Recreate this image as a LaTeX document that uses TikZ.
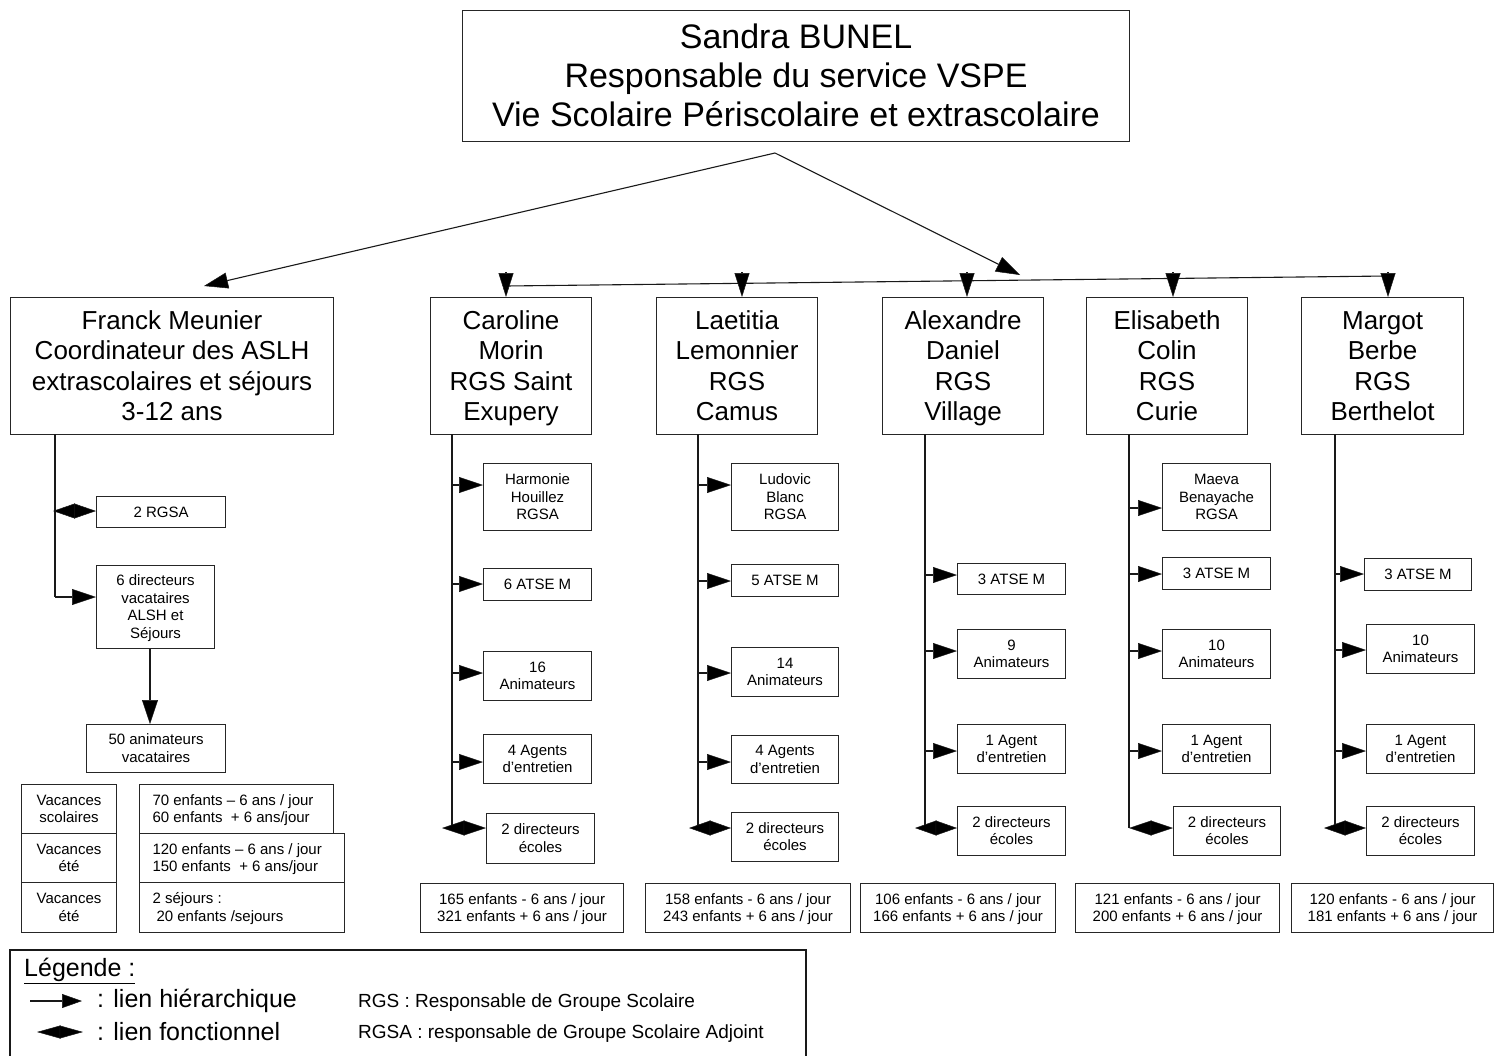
\documentclass[tikz,border=0pt]{standalone}
\usepackage{fontspec}
\setmainfont{Liberation Sans}
\usetikzlibrary{arrows.meta}
\newcommand\bx[1]{\raisebox{-0.11em}[\height][\depth]{\begin{tabular}{@{}c@{}}#1\end{tabular}}}
\newcommand\bxl[2]{\makebox[#1][l]{\raisebox{-0.11em}[\height][\depth]{\begin{tabular}{@{}l@{}}#2\end{tabular}}}}
\begin{document}
\begin{tikzpicture}[x=1pt,y=-1pt,
  box/.style={draw=black!85, line width=1.1pt, inner sep=0pt, anchor=north west,
    font=\fontsize{15}{17.5}\selectfont},
  bigbox/.style={box, font=\fontsize{26}{30.5}\selectfont},
  titlebox/.style={box, font=\fontsize{34}{39}\selectfont},
  leftbox/.style={box, inner xsep=13pt},
  conn/.style={line width=1.1pt, draw=black!90},
  hier/.style={conn, -{Triangle[length=24pt,width=16pt,fill=black,line width=0.5pt]}},
  fonc/.style={conn, {Triangle[length=#1,width=15pt,fill=black,line width=0.5pt]}-{Triangle[length=#1,width=15pt,fill=black,line width=0.5pt]}},
  fonc/.default=22pt,
  legtxt/.style={anchor=west, inner sep=0pt, font=\fontsize{25}{29}\selectfont},
  legsmall/.style={anchor=west, inner sep=0pt, font=\fontsize{19}{22}\selectfont},
]
\useasboundingbox (0,0) rectangle (1499,1055);
\fill[white] (0,0) rectangle (1499,1055);

% top
\node[titlebox, minimum width=667pt, minimum height=131pt] (top) at (462,10)
  {\bx{Sandra BUNEL\\Responsable du service VSPE\\Vie Scolaire Périscolaire et extrascolaire}};
\coordinate (apex) at (775,153);
\coordinate (ftip) at (204,286);
\coordinate (btip) at (1020,275);
\draw[hier] (apex) -- (ftip);
\draw[hier] (apex) -- (btip);

% second row
\node[bigbox, minimum width=323pt, minimum height=137pt] (franck) at (10,297)
  {\bx{Franck Meunier\\Coordinateur des ASLH\\extrascolaires et séjours\\3-12 ans}};
\node[bigbox, minimum width=161pt, minimum height=137pt] (caro) at (430,297)
  {\bx{Caroline\\Morin\\RGS Saint\\Exupery}};
\node[bigbox, minimum width=161pt, minimum height=137pt] (laet) at (656,297)
  {\bx{Laetitia\\Lemonnier\\RGS\\Camus}};
\node[bigbox, minimum width=161pt, minimum height=137pt] (alex) at (882,297)
  {\bx{Alexandre\\Daniel\\RGS\\Village}};
\node[bigbox, minimum width=161pt, minimum height=137pt] (elis) at (1086,297)
  {\bx{Elisabeth\\Colin\\RGS\\Curie}};
\node[bigbox, minimum width=162pt, minimum height=137pt] (marg) at (1301,297)
  {\bx{Margot\\Berbe\\RGS\\Berthelot}};

% bus
\coordinate (bus1) at (506,286);
\coordinate (bus5) at (1388,276);
\draw[conn] (bus1) -- (bus5);
\foreach \x/\n in {506/caro,742/laet,967/alex,1173/elis,1388/marg}{
  \coordinate (b\n) at (\x,272);
  \draw[conn, -{Triangle[length=24pt,width=15pt,fill=black,line width=0.5pt]}] (b\n) -- (\n.north -| b\n);
}

% Franck column
\node[box, minimum width=129pt, minimum height=31pt] (rgsa2) at (96,496) {\bx{2 RGSA}};
\node[box, minimum width=118pt, minimum height=83pt] (dir6) at (96,565)
  {\bx{6 directeurs\\vacataires\\ALSH et\\Séjours}};
\node[box, minimum width=139pt, minimum height=48pt] (anim50) at (86,724)
  {\bx{50 animateurs\\vacataires}};
\node[box, minimum width=95pt, minimum height=49pt] (vs1) at (21,784) {\bx{Vacances\\scolaires}};
\node[box, minimum width=95pt, minimum height=49pt] (vs2) at (21,833) {\bx{Vacances\\été}};
\node[box, minimum width=95pt, minimum height=50pt] (vs3) at (21,882) {\bx{Vacances\\été}};
\node[leftbox, minimum height=49pt] (e1) at (139,784)
  {\bxl{168pt}{70 enfants – 6 ans / jour\\60 enfants \ + 6 ans/jour}};
\node[leftbox, minimum height=49pt] (e2) at (139,833)
  {\bxl{179pt}{120 enfants – 6 ans / jour\\150 enfants \ + 6 ans/jour}};
\node[leftbox, minimum height=50pt] (e3) at (139,882)
  {\bxl{179pt}{2 séjours :\\\hspace*{4pt}20 enfants /sejours}};
\coordinate (f0) at (55,434);
\coordinate (f1) at (53,511);
\coordinate (f2) at (55,597);
\draw[conn] (f0) -- (f2);
\draw[fonc=22pt] (f1) -- (rgsa2.west |- f1);
\draw[hier] (f2) -- (dir6.west |- f2);
\draw[hier] (dir6.south -| 150,0) -- (anim50.north -| 150,0);

% Caroline column
\node[box, minimum width=108pt, minimum height=67pt] (hh) at (483,463) {\bx{Harmonie\\Houillez\\RGSA}};
\node[box, minimum width=108pt, minimum height=32pt] (ca1) at (483,568) {\bx{6 ATSE M}};
\node[box, minimum width=108pt, minimum height=49pt] (ca2) at (483,651) {\bx{16\\Animateurs}};
\node[box, minimum width=108pt, minimum height=49pt] (ca3) at (483,734) {\bx{4 Agents\\d'entretien}};
\node[box, minimum width=108pt, minimum height=50pt] (ca4) at (486,813) {\bx{2 directeurs\\écoles}};
\node[box, minimum width=203pt, minimum height=49pt] (cs) at (420,883)
  {\bx{165 enfants - 6 ans / jour\\321 enfants + 6 ans / jour}};
\coordinate (c0) at (452,434);
\coordinate (c5) at (452,828);
\draw[conn] (c0) -- (c5);
\foreach \y/\n in {485/hh,584/ca1,673/ca2,762/ca3}{
  \coordinate (cc\n) at (452,\y);
  \draw[hier] (cc\n) -- (\n.west |- cc\n);
}
\coordinate (cd) at (442,828);
\draw[fonc=22.5pt] (cd) -- (ca4.west |- cd);

% Laetitia column
\node[box, minimum width=107pt, minimum height=67pt] (lb) at (731,463) {\bx{Ludovic\\Blanc\\RGSA}};
\node[box, minimum width=107pt, minimum height=32pt] (la1) at (731,564) {\bx{5 ATSE M}};
\node[box, minimum width=107pt, minimum height=49pt] (la2) at (731,647) {\bx{14\\Animateurs}};
\node[box, minimum width=107pt, minimum height=48pt] (la3) at (731,735) {\bx{4 Agents\\d'entretien}};
\node[box, minimum width=107pt, minimum height=49pt] (la4) at (731,812) {\bx{2 directeurs\\écoles}};
\node[box, minimum width=205pt, minimum height=49pt] (ls) at (645,883)
  {\bx{158 enfants - 6 ans / jour\\243 enfants + 6 ans / jour}};
\coordinate (l0) at (698,434);
\coordinate (l5) at (698,828);
\draw[conn] (l0) -- (l5);
\foreach \y/\n in {485/lb,581/la1,673/la2,762/la3}{
  \coordinate (lc\n) at (698,\y);
  \draw[hier] (lc\n) -- (\n.west |- lc\n);
}
\coordinate (ld) at (689,828);
\draw[fonc=21.5pt] (ld) -- (la4.west |- ld);

% Alexandre column
\node[box, minimum width=108pt, minimum height=31pt] (al1) at (957,563) {\bx{3 ATSE M}};
\node[box, minimum width=108pt, minimum height=49pt] (al2) at (957,629) {\bx{9\\Animateurs}};
\node[box, minimum width=108pt, minimum height=49pt] (al3) at (957,724) {\bx{1 Agent\\d'entretien}};
\node[box, minimum width=108pt, minimum height=49pt] (al4) at (957,806) {\bx{2 directeurs\\écoles}};
\node[box, minimum width=195pt, minimum height=49pt] (as) at (860,883)
  {\bx{106 enfants - 6 ans / jour\\166 enfants + 6 ans / jour}};
\coordinate (a0) at (925,434);
\coordinate (a5) at (925,828);
\draw[conn] (a0) -- (a5);
\foreach \y/\n in {575/al1,651/al2,751/al3}{
  \coordinate (ac\n) at (925,\y);
  \draw[hier] (ac\n) -- (\n.west |- ac\n);
}
\coordinate (ad) at (915,828);
\draw[fonc=21.5pt] (ad) -- (al4.west |- ad);

% Elisabeth column
\node[box, minimum width=108pt, minimum height=67pt] (mb) at (1162,463) {\bx{Maeva\\Benayache\\RGSA}};
\node[box, minimum width=108pt, minimum height=32pt] (el1) at (1162,557) {\bx{3 ATSE M}};
\node[box, minimum width=108pt, minimum height=49pt] (el2) at (1162,629) {\bx{10\\Animateurs}};
\node[box, minimum width=108pt, minimum height=49pt] (el3) at (1162,724) {\bx{1 Agent\\d'entretien}};
\node[box, minimum width=107pt, minimum height=49pt] (el4) at (1173,806) {\bx{2 directeurs\\écoles}};
\node[box, minimum width=204pt, minimum height=49pt] (es) at (1075,883)
  {\bx{121 enfants - 6 ans / jour\\200 enfants + 6 ans / jour}};
\coordinate (e0) at (1129,434);
\coordinate (e5) at (1129,828);
\draw[conn] (e0) -- (e5);
\foreach \y/\n in {508/mb,574/el1,651/el2,751/el3}{
  \coordinate (ec\n) at (1129,\y);
  \draw[hier] (ec\n) -- (\n.west |- ec\n);
}
\draw[fonc=22.5pt] (e5) -- (el4.west |- e5);

% Margot column
\node[box, minimum width=107pt, minimum height=32pt] (ma1) at (1364,558) {\bx{3 ATSE M}};
\node[box, minimum width=108pt, minimum height=49pt] (ma2) at (1366,624) {\bx{10\\Animateurs}};
\node[box, minimum width=108pt, minimum height=49pt] (ma3) at (1366,724) {\bx{1 Agent\\d'entretien}};
\node[box, minimum width=108pt, minimum height=49pt] (ma4) at (1366,806) {\bx{2 directeurs\\écoles}};
\node[box, minimum width=202pt, minimum height=49pt] (ms) at (1291,883)
  {\bx{120 enfants - 6 ans / jour\\181 enfants + 6 ans / jour}};
\coordinate (m0) at (1335,434);
\coordinate (m5) at (1335,828);
\draw[conn] (m0) -- (m5);
\foreach \y/\n in {574/ma1,650/ma2,751/ma3}{
  \coordinate (mc\n) at (1335,\y);
  \draw[hier] (mc\n) -- (\n.west |- mc\n);
}
\coordinate (md) at (1324,828);
\draw[fonc=21.5pt] (md) -- (ma4.west |- md);

% legend
\draw[conn] (10,1056) -- (10,950) -- (806,950) -- (806,1056);
\node[legtxt] (legtitle) at (24,971) {\underline{Légende :}};
\coordinate (lh0) at (30,1001);
\coordinate (lh1) at (82,1001);
\draw[conn, -{Triangle[length=20pt,width=14pt,fill=black,line width=0.5pt]}] (lh0) -- (lh1);
\node[legtxt] (lhtxt) at (97,1001) {: lien hiérarchique};
\coordinate (lf0) at (37,1032);
\coordinate (lf1) at (83,1032);
\draw[conn, {Triangle[length=23.5pt,width=13pt,fill=black,line width=0.5pt]}-{Triangle[length=23.5pt,width=13pt,fill=black,line width=0.5pt]}] (lf0) -- (lf1);
\node[legtxt] (lftxt) at (97,1032) {: lien fonctionnel};
\node[legsmall] (rgs) at (358,1003) {RGS : Responsable de Groupe Scolaire};
\node[legsmall] (rgsa) at (358,1034) {RGSA : responsable de Groupe Scolaire Adjoint};
\end{tikzpicture}
\end{document}
